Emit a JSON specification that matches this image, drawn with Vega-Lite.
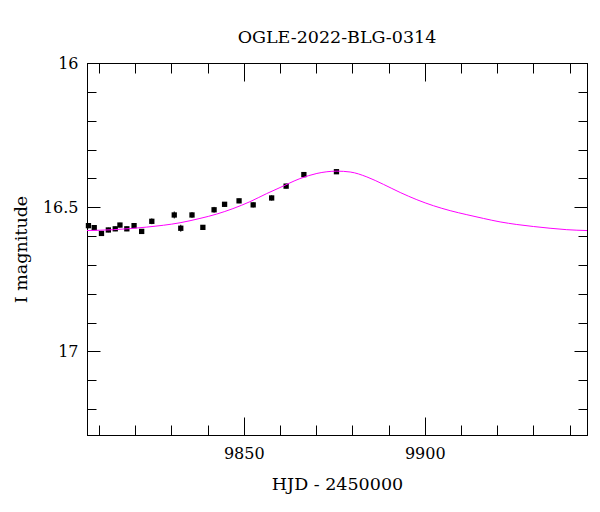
{
  "$schema": "https://vega.github.io/schema/vega-lite/v6.json",
  "width": 500,
  "height": 372,
  "autosize": "none",
  "padding": {"left": 87, "top": 63, "right": 13, "bottom": 77},
  "background": "white",
  "title": {"text": "OGLE-2022-BLG-0314", "font": "DejaVu Serif", "fontSize": 17.5, "fontWeight": "normal", "color": "black", "anchor": "middle", "offset": 9},
  "config": {
    "view": {"stroke": "black", "strokeWidth": 1},
    "axis": {"grid": false, "labelFont": "DejaVu Serif", "labelFontSize": 16, "labelColor": "black", "titleFont": "DejaVu Serif", "titleFontSize": 17.5, "titleFontWeight": "normal", "titleColor": "black", "tickColor": "black", "domainColor": "black", "tickWidth": 1, "domainWidth": 1}
  },
  "datasets": {
    "pts": [
      {"t": 9807.1, "mag": 16.564, "lo": 16.555, "hi": 16.573},
      {"t": 9808.7, "mag": 16.571, "lo": 16.563, "hi": 16.579},
      {"t": 9810.7, "mag": 16.591, "lo": 16.583, "hi": 16.599},
      {"t": 9812.6, "mag": 16.579, "lo": 16.571, "hi": 16.587},
      {"t": 9814.5, "mag": 16.575, "lo": 16.567, "hi": 16.583},
      {"t": 9815.8, "mag": 16.562, "lo": 16.554, "hi": 16.570},
      {"t": 9817.7, "mag": 16.575, "lo": 16.567, "hi": 16.583},
      {"t": 9819.7, "mag": 16.564, "lo": 16.556, "hi": 16.572},
      {"t": 9821.8, "mag": 16.584, "lo": 16.576, "hi": 16.592},
      {"t": 9824.6, "mag": 16.549, "lo": 16.539, "hi": 16.559},
      {"t": 9830.8, "mag": 16.527, "lo": 16.515, "hi": 16.539},
      {"t": 9832.6, "mag": 16.573, "lo": 16.561, "hi": 16.585},
      {"t": 9835.7, "mag": 16.527, "lo": 16.517, "hi": 16.537},
      {"t": 9838.7, "mag": 16.570, "lo": 16.562, "hi": 16.578},
      {"t": 9841.8, "mag": 16.509, "lo": 16.499, "hi": 16.519},
      {"t": 9844.7, "mag": 16.490, "lo": 16.482, "hi": 16.498},
      {"t": 9848.7, "mag": 16.478, "lo": 16.470, "hi": 16.486},
      {"t": 9852.6, "mag": 16.492, "lo": 16.483, "hi": 16.501},
      {"t": 9857.7, "mag": 16.468, "lo": 16.459, "hi": 16.477},
      {"t": 9861.7, "mag": 16.427, "lo": 16.419, "hi": 16.435},
      {"t": 9866.6, "mag": 16.387, "lo": 16.379, "hi": 16.395},
      {"t": 9875.6, "mag": 16.377, "lo": 16.369, "hi": 16.385}
    ],
    "model": [
      {"t": 9806.7, "mag": 16.581},
      {"t": 9814.0, "mag": 16.578},
      {"t": 9823.2, "mag": 16.569},
      {"t": 9832.4, "mag": 16.554},
      {"t": 9837.9, "mag": 16.539},
      {"t": 9842.5, "mag": 16.524},
      {"t": 9847.0, "mag": 16.505},
      {"t": 9851.7, "mag": 16.481},
      {"t": 9856.3, "mag": 16.453},
      {"t": 9860.0, "mag": 16.432},
      {"t": 9865.5, "mag": 16.401},
      {"t": 9870.2, "mag": 16.383},
      {"t": 9875.7, "mag": 16.375},
      {"t": 9879.4, "mag": 16.378},
      {"t": 9884.0, "mag": 16.395},
      {"t": 9888.6, "mag": 16.421},
      {"t": 9893.2, "mag": 16.449},
      {"t": 9897.8, "mag": 16.474},
      {"t": 9902.4, "mag": 16.495},
      {"t": 9907.0, "mag": 16.512},
      {"t": 9911.6, "mag": 16.526},
      {"t": 9916.2, "mag": 16.539},
      {"t": 9920.8, "mag": 16.551},
      {"t": 9925.4, "mag": 16.560},
      {"t": 9930.0, "mag": 16.567},
      {"t": 9934.6, "mag": 16.573},
      {"t": 9939.2, "mag": 16.578},
      {"t": 9944.8, "mag": 16.581}
    ]
  },
  "layer": [
    {
      "data": {"name": "pts"},
      "mark": {"type": "rule", "color": "black", "strokeWidth": 1},
      "encoding": {
        "x": {"field": "t", "type": "quantitative", "scale": {"domain": [9806.7, 9944.8], "nice": false, "zero": false},
          "axis": {"orient": "bottom", "values": [9850, 9900], "format": "d", "tickSize": -18, "labelPadding": 28, "title": "HJD - 2450000", "titlePadding": 14}},
        "y": {"field": "lo", "type": "quantitative", "scale": {"domain": [16, 17.29], "nice": false, "zero": false, "reverse": true},
          "axis": {"orient": "left", "values": [16, 16.5, 17], "format": "~g", "tickSize": -13, "labelPadding": 22, "title": "I magnitude", "titlePadding": 12}},
        "y2": {"field": "hi"}
      }
    },
    {
      "data": {"name": "pts"},
      "mark": {"type": "square", "color": "black", "filled": true, "size": 28, "opacity": 1},
      "encoding": {
        "x": {"field": "t", "type": "quantitative", "scale": {"domain": [9806.7, 9944.8], "nice": false, "zero": false},
          "axis": {"orient": "bottom", "values": [9810, 9820, 9830, 9840, 9850, 9860, 9870, 9880, 9890, 9900, 9910, 9920, 9930, 9940], "tickSize": -10, "labels": false, "title": null}},
        "y": {"field": "mag", "type": "quantitative", "scale": {"domain": [16, 17.29], "nice": false, "zero": false, "reverse": true},
          "axis": {"orient": "left", "values": [16.1, 16.2, 16.3, 16.4, 16.6, 16.7, 16.8, 16.9, 17.1, 17.2], "tickSize": -9, "labels": false, "title": null}}
      }
    },
    {
      "data": {"name": "model"},
      "mark": {"type": "line", "color": "#ff00ff", "strokeWidth": 1, "interpolate": "monotone"},
      "encoding": {
        "x": {"field": "t", "type": "quantitative", "scale": {"domain": [9806.7, 9944.8], "nice": false, "zero": false},
          "axis": {"orient": "top", "values": [9850, 9900], "tickSize": -18, "labels": false, "title": null}},
        "y": {"field": "mag", "type": "quantitative", "scale": {"domain": [16, 17.29], "nice": false, "zero": false, "reverse": true},
          "axis": {"orient": "right", "values": [16, 16.5, 17], "tickSize": -13, "labels": false, "title": null}}
      }
    },
    {
      "data": {"name": "model"},
      "mark": {"type": "line", "color": "#ff00ff", "strokeWidth": 1, "opacity": 0},
      "encoding": {
        "x": {"field": "t", "type": "quantitative", "scale": {"domain": [9806.7, 9944.8], "nice": false, "zero": false},
          "axis": {"orient": "top", "values": [9810, 9820, 9830, 9840, 9850, 9860, 9870, 9880, 9890, 9900, 9910, 9920, 9930, 9940], "tickSize": -10, "labels": false, "title": null}},
        "y": {"field": "mag", "type": "quantitative", "scale": {"domain": [16, 17.29], "nice": false, "zero": false, "reverse": true},
          "axis": {"orient": "right", "values": [16.1, 16.2, 16.3, 16.4, 16.6, 16.7, 16.8, 16.9, 17.1, 17.2], "tickSize": -9, "labels": false, "title": null}}
      }
    }
  ],
  "resolve": {"axis": {"x": "independent", "y": "independent"}}
}
